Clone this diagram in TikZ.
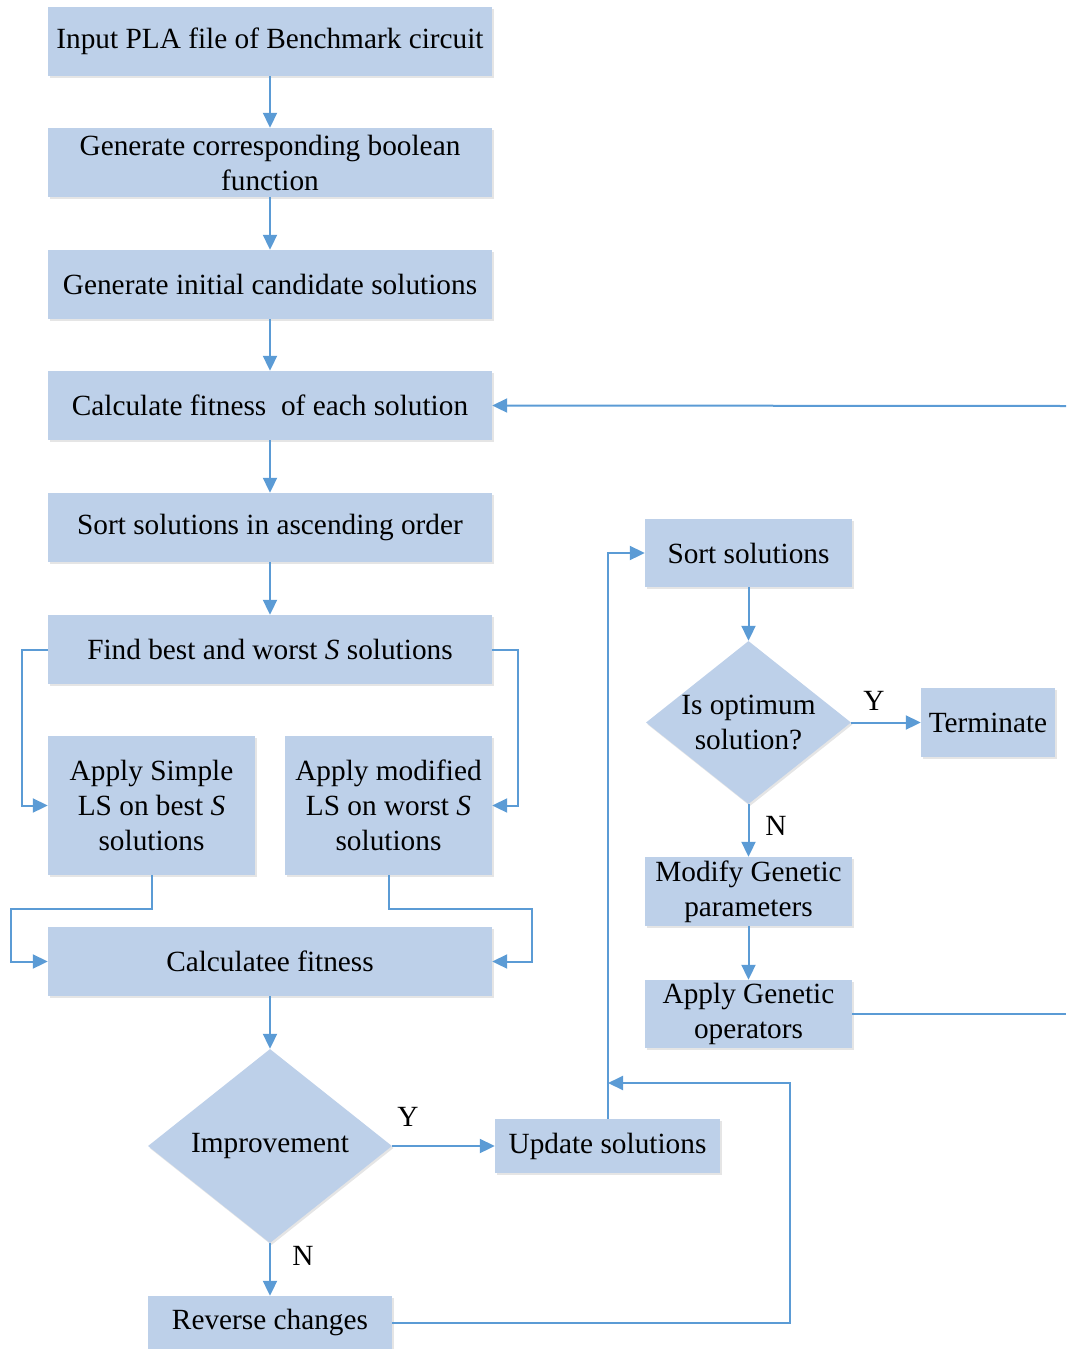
\documentclass[tikz,border=0pt]{standalone}
\usepackage{fontspec}
\setmainfont{Liberation Serif}
\usetikzlibrary{shapes.geometric,arrows.meta,shadows}
\definecolor{boxfill}{HTML}{BDD0E9}
\definecolor{linkblue}{HTML}{5B9BD5}

\begin{document}
\begin{tikzpicture}[x=1pt,y=-1pt,
  txt/.style={font=\fontsize{29.3}{35}\selectfont},
  shade/.style={drop shadow={shadow xshift=1.5pt, shadow yshift=-2pt, opacity=0.10, fill=black}},
  base/.style={txt, fill=boxfill, inner sep=0pt, align=center, shade},
  proc/.style 2 args={base, rectangle, minimum width=#1, minimum height=#2},
  decision/.style 2 args={fill=boxfill, shade, diamond, inner sep=0pt, minimum width=#1, minimum height=#2},
  line/.style={draw=linkblue, line width=2pt},
  link/.style={line, -{Triangle[length=15pt,width=14pt]}},
  lbl/.style={txt, inner sep=0pt, align=center}]
\clip (0,0) rectangle (1066,1349);

% main column
\node[proc={444pt}{69pt}] (n1) at (270,41.5) {Input PLA file of Benchmark circuit};
\node[proc={444pt}{69pt}] (n2) at (270,162.5) {Generate corresponding boolean\\function};
\node[proc={444pt}{69pt}] (n3) at (270,284.5) {Generate initial candidate solutions};
\node[proc={444pt}{69pt}] (n4) at (270,405.5) {Calculate fitness\ \ of each solution};
\node[proc={444pt}{69pt}] (n5) at (270,527.5) {Sort solutions in ascending order};
\node[proc={444pt}{69pt}] (n6) at (270,649.5) {Find best and worst \textit{S} solutions};
\node[proc={207pt}{139pt}] (ls1) at (151.5,805.5) {Apply Simple\\LS on best \textit{S}\\solutions};
\node[proc={207pt}{139pt}] (ls2) at (388.5,805.5) {Apply modified\\LS on worst \textit{S}\\solutions};
\node[proc={444pt}{69pt}] (cf) at (270,961.5) {Calculatee fitness};
\node[decision={244pt}{194pt}] (imp) at (270,1146) {};
\node[lbl] (impt) at (imp.center) {Improvement};
\node[proc={244pt}{53pt}] (rev) at (270,1322.5) {Reverse changes};

% genetic branch
\node[proc={225pt}{54pt}] (upd) at (607.5,1146) {Update solutions};
\node[proc={207pt}{68pt}] (srt) at (748.5,553) {Sort solutions};
\node[decision={205pt}{163pt}] (opt) at (748.5,722.5) {};
\node[lbl] (optt) at (opt.center) {Is optimum\\solution?};
\node[proc={134pt}{69pt}] (term) at (988,722.5) {Terminate};
\node[proc={207pt}{69pt}] (mod) at (748.5,891.5) {Modify Genetic\\parameters};
\node[proc={207pt}{68pt}] (gen) at (748.5,1014) {Apply Genetic\\operators};

% bend points
\coordinate (jl) at (11,909);
\coordinate (jr) at (532,909);
\coordinate (jb) at (790,1083);
\coordinate (jm) at (608,1083);
\coordinate (outA) at (1066,1014);
\coordinate (outB) at (1066,406);

% connectors
\draw[link] (n1) -- (n2);
\draw[link] (n2) -- (n3);
\draw[link] (n3) -- (n4);
\draw[link] (n4) -- (n5);
\draw[link] (n5) -- (n6);
\draw[link] (n6.west) -- ++(-26,0) |- (ls1.west);
\draw[link] (n6.east) -- ++(26,0) |- (ls2.east);
\draw[link] (ls1.south) |- (jl) |- (cf.west);
\draw[link] (ls2.south) |- (jr) |- (cf.east);
\draw[link] (cf) -- (imp.north);
\draw[link] (imp.east) -- (upd.west);
\draw[link] (imp.south) -- (rev.north);
\draw[link] (rev.east) -| (jb) -- (jm);
\draw[link] (upd.north) |- (srt.west);
\draw[link] (srt) -- (opt.north);
\draw[link] (opt.east) -- (term.west);
\draw[link] (opt.south) -- (mod.north);
\draw[link] (mod) -- (gen);
\draw[line] (gen.east) -- (outA);
\draw[link] (outB) -- (n4.east);

% branch labels
\node[lbl] (y1) at (408,1117) {Y};
\node[lbl] (n1lab) at (303,1256) {N};
\node[lbl] (y2) at (874,701) {Y};
\node[lbl] (n2lab) at (776,826) {N};
\end{tikzpicture}
\end{document}
